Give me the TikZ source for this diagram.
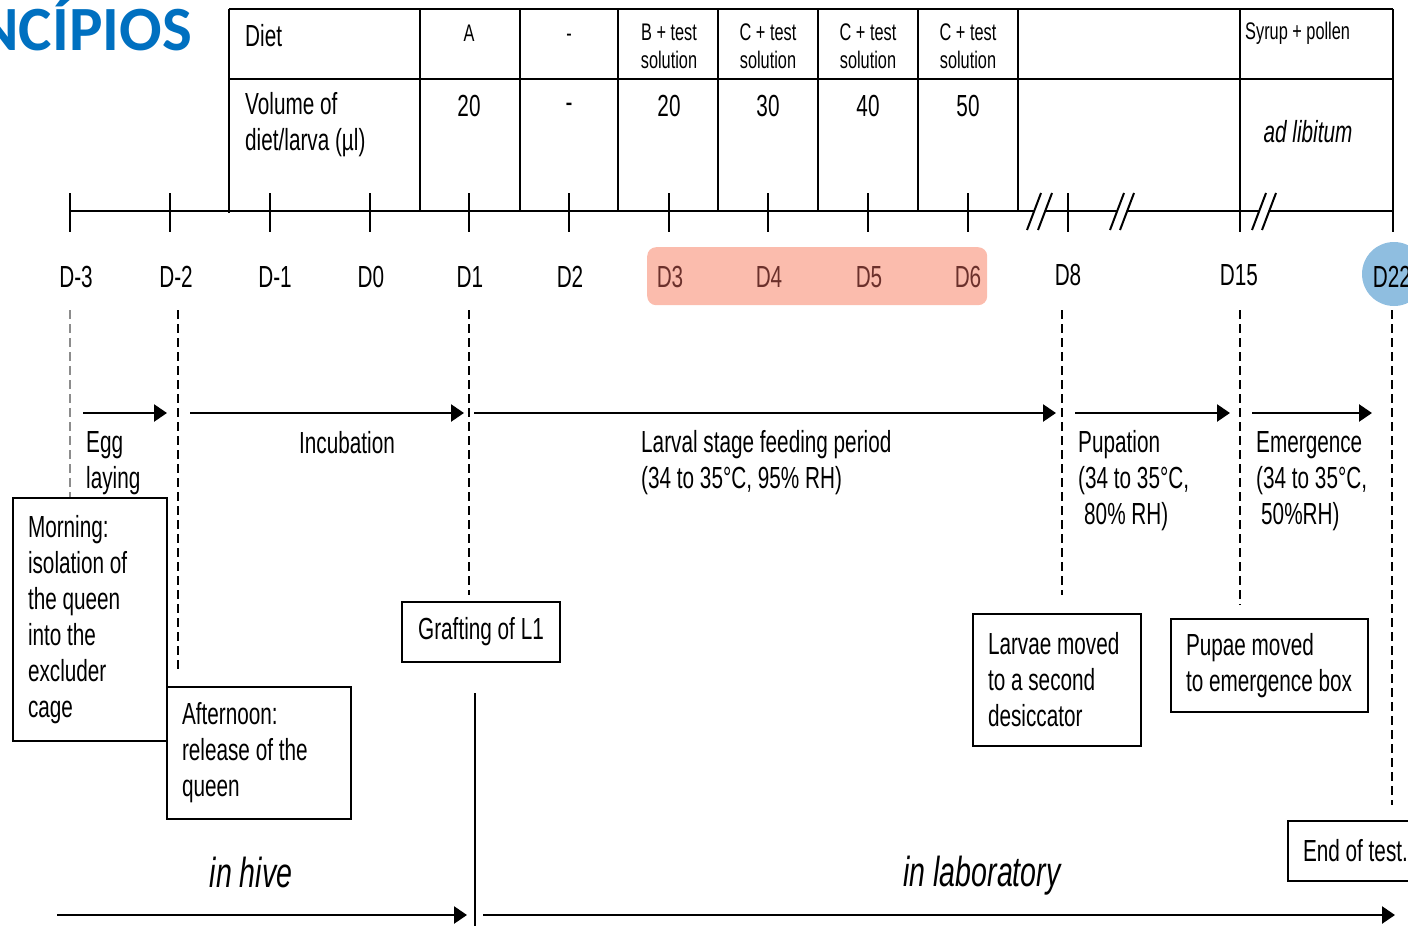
\documentclass[tikz,border=0pt]{standalone}
\usepackage{fontspec}
\setmainfont[FakeStretch=0.68]{Liberation Sans}
\newfontfamily\titlefont{Carlito}
\usetikzlibrary{arrows.meta}
\definecolor{titleblue}{HTML}{0070C0}
\definecolor{pinkbox}{HTML}{FBBCAD}
\definecolor{bluecirc}{HTML}{8FBEE0}
\definecolor{hltext}{HTML}{6B302B}
\definecolor{dashgray}{HTML}{8C8C8C}
\newcommand{\mainsz}{\fontsize{30.5}{36}\selectfont}
\newcommand{\cellsz}{\fontsize{24}{28}\selectfont}
\newcommand{\bigsz}{\fontsize{42}{48}\selectfont}
\begin{document}
\begin{tikzpicture}[x=1pt,y=-1pt,
  every node/.style={inner sep=0pt,font=\mainsz},
  gridline/.style={line width=2pt},
  axis/.style={line width=2.4pt},
  tickmark/.style={line width=2pt},
  slashmark/.style={line width=2pt},
  vdash/.style={line width=1.8pt,dash pattern=on 9pt off 5pt},
  arr/.style={line width=2.5pt,-{Triangle[length=13pt,width=17pt]}},
  tbox/.style={draw,line width=2pt,anchor=north west,align=flush left,inner xsep=15pt,inner ysep=0pt},
  cell/.style={font=\cellsz,align=center},
  lbl/.style={anchor=west,align=left},
  hlday/.style={text=hltext}
]
\useasboundingbox (0,0) rectangle (1408,926);
\clip (0,0) rectangle (1408,926);

% title fragment
\node[anchor=base east,font=\titlefont\bfseries\fontsize{63}{70}\selectfont,text=titleblue] (title) at (192,50) {PRINCÍPIOS};

% table grid
\draw[gridline] (229,9) -- (1393,9);
\draw[gridline] (229,79) -- (1393,79);
\draw[gridline] (229,9) -- (229,213);
\foreach \x in {420,520,618,718,818,918,1018,1240} \draw[gridline] (\x,9) -- (\x,211);
\draw[gridline] (1393,9) -- (1393,232);

% table texts
\node[anchor=west] (diet) at (245,36) {Diet};
\node[anchor=west,align=left] (vol) at (245,125) {Volume of\\diet/larva (µl)};
\node[cell] (dA) at (469,33) {A};
\node[cell] (dDash) at (569,38) {-};
\node[cell] (dB) at (669,46) {B + test\\solution};
\node[cell] (dC1) at (768,46) {C + test\\solution};
\node[cell] (dC2) at (868,46) {C + test\\solution};
\node[cell] (dC3) at (968,46) {C + test\\solution};
\node[cell,anchor=west] (dSyr) at (1245,33) {Syrup + pollen};
\node (v1) at (469,106) {20};
\node (v2) at (569,108) {-};
\node (v3) at (669,106) {20};
\node (v4) at (768,106) {30};
\node (v5) at (868,106) {40};
\node (v6) at (968,106) {50};
\node[font=\mainsz\itshape] (adlib) at (1308,132) {ad libitum};

% timeline
\coordinate (t0) at (70,211);
\coordinate (t1) at (1035,211);
\coordinate (t2) at (1046,211);
\coordinate (t3) at (1117,211);
\coordinate (t4) at (1127,211);
\coordinate (t5) at (1259,211);
\coordinate (t6) at (1269,211);
\coordinate (t7) at (1393,211);
\draw[axis] (t0) -- (t1) (t2) -- (t3) (t4) -- (t5) (t6) -- (t7);
\foreach \x in {70,170,270,370,469,569,669,768,868,968,1068,1240} \draw[tickmark] (\x,193) -- (\x,232);
\foreach \x in {1027,1038,1110,1120,1252,1262} \draw[slashmark] (\x,230) -- ++(14,-37);

% highlight shapes
\node[fill=pinkbox,rounded corners=9pt,anchor=north west,minimum width=340pt,minimum height=58pt] (hl) at (647,247) {};
\node[circle,fill=bluecirc,minimum size=64pt] (c22) at (1394,274) {};

% day labels
\node (dm3) at (76,277) {D-3};
\node (dm2) at (176,277) {D-2};
\node (dm1) at (275,277) {D-1};
\node (dd0) at (371,277) {D0};
\node (dd1) at (470,277) {D1};
\node (dd2) at (570,277) {D2};
\node[hlday] (dd3) at (670,277) {D3};
\node[hlday] (dd4) at (769,277) {D4};
\node[hlday] (dd5) at (869,277) {D5};
\node[hlday] (dd6) at (968,277) {D6};
\node (dd8) at (1068,275) {D8};
\node (dd15) at (1239,275) {D15};
\node (dd22) at (1392,277) {D22};

% boxes
\node[tbox,minimum width=154pt,minimum height=243pt,text width=124pt] (morning) at (12,497) {Morning:\\isolation of\\the queen\\into the\\excluder\\cage};
\node[tbox,minimum width=184pt,minimum height=132pt,text width=154pt] (afternoon) at (166,686) {Afternoon:\\release of the\\queen};
\node[draw,line width=2pt,anchor=north west,minimum width=158pt,minimum height=60pt] (graft) at (401,601) {Grafting of L1};
\node[tbox,minimum width=168pt,minimum height=132pt,text width=138pt] (larvae) at (972,613) {Larvae moved\\to a second\\desiccator};
\node[tbox,minimum width=197pt,minimum height=93pt,text width=167pt] (pupae) at (1170,618) {Pupae moved\\\mbox{to emergence box}};
\node[tbox,minimum width=140pt,minimum height=60pt,text width=110pt] (endt) at (1287,820) {\mbox{End of test.}};

% dashed day lines
\coordinate (q1) at (70,310);
\coordinate (q2) at (178,310);
\coordinate (q2e) at (178,670);
\coordinate (q3) at (469,310);
\coordinate (q3e) at (469,595);
\coordinate (q4) at (1062,310);
\coordinate (q4e) at (1062,595);
\coordinate (q5) at (1240,310);
\coordinate (q5e) at (1240,605);
\coordinate (q6) at (1392,310);
\coordinate (q6e) at (1392,805);
\draw[vdash,dashgray] (q1) -- (q1 |- morning.north);
\draw[vdash] (q2) -- (q2e);
\draw[vdash] (q3) -- (q3e);
\draw[vdash] (q4) -- (q4e);
\draw[vdash] (q5) -- (q5e);
\draw[vdash] (q6) -- (q6e);

% phase arrows
\coordinate (a1s) at (83,413);   \coordinate (a1e) at (167,413);
\coordinate (a2s) at (190,413);  \coordinate (a2e) at (464,413);
\coordinate (a3s) at (474,413);  \coordinate (a3e) at (1056,413);
\coordinate (a4s) at (1075,413); \coordinate (a4e) at (1230,413);
\coordinate (a5s) at (1252,413); \coordinate (a5e) at (1372,413);
\draw[arr] (a1s) -- (a1e);
\draw[arr] (a2s) -- (a2e);
\draw[arr] (a3s) -- (a3e);
\draw[arr] (a4s) -- (a4e);
\draw[arr] (a5s) -- (a5e);

% phase labels
\node[lbl] (egg) at (86,463) {Egg\\laying};
\node (incub) at (347,443) {Incubation};
\node[lbl] (larval) at (641,463) {Larval stage feeding period\\(34 to 35°C, 95\% RH)};
\node[lbl] (pupation) at (1078,481) {Pupation\\(34 to 35°C,\\\hspace*{6pt}80\% RH)};
\node[lbl] (emerg) at (1256,481) {Emergence\\(34 to 35°C,\\\hspace*{5pt}50\%RH)};

% hive / laboratory
\coordinate (sep1) at (475,693);
\coordinate (sep2) at (475,926);
\draw[line width=2pt] (sep1) -- (sep2);
\coordinate (b1s) at (57,915);  \coordinate (b1e) at (467,915);
\coordinate (b2s) at (483,915); \coordinate (b2e) at (1395,915);
\draw[arr] (b1s) -- (b1e);
\draw[arr] (b2s) -- (b2e);
\node[font=\bigsz\itshape] (hive) at (251,872) {in hive};
\node[font=\bigsz\itshape] (lab) at (982,876) {in laboratory};
\end{tikzpicture}
\end{document}
